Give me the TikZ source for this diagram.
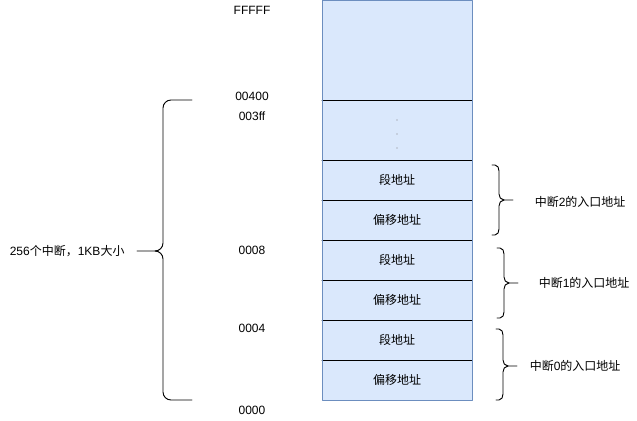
\documentclass[tikz,border=0pt]{standalone}
\usepackage{fontspec}
\setmainfont{Liberation Sans}
\newfontfamily\cjk{Noto Sans CJK SC}
\definecolor{memfill}{HTML}{DAE8FC}
\definecolor{memline}{HTML}{6C8EBF}
\tikzset{cell/.style={fill=memfill,minimum width=112.5pt,minimum height=30pt,inner sep=0pt,outer sep=0pt},
 addr/.style={inner sep=1pt}}
\begin{document}
\begin{tikzpicture}[x=0.75pt,y=-0.75pt,font=\fontsize{9pt}{11pt}\selectfont,line join=round,line cap=round,line width=0.7pt]
 \useasboundingbox (0,0) rectangle (637,421);
 % memory column
 \node[cell,minimum height=75pt] (top) at (397,50) {};
 \node[cell,minimum height=45pt] (dots) at (397,130) {};
 \node[cell] (seg2) at (397,180) {\cjk 段地址};
 \node[cell] (off2) at (397,220) {\cjk 偏移地址};
 \node[cell] (seg1) at (397,260) {\cjk 段地址};
 \node[cell] (off1) at (397,300) {\cjk 偏移地址};
 \node[cell] (seg0) at (397,340) {\cjk 段地址};
 \node[cell] (off0) at (397,380) {\cjk 偏移地址};
 \foreach \n in {dots,seg2,off2,seg1,off1,seg0,off0}
  \draw (\n.north west) -- (\n.north east);
 \draw[memline] (top.north west) rectangle (off0.south east);
 \fill[gray] (397,120) circle(0.6) (397,134) circle(0.6) (397,148) circle(0.6);
 % addresses
 \node[addr] (aF) at (252,10) {FFFFF};
 \node[addr] (a400) at (252,96) {00400};
 \node[addr] (a3ff) at (252,116) {003ff};
 \node[addr] (a8) at (252,250) {0008};
 \node[addr] (a4) at (252,328) {0004};
 \node[addr] (a0) at (252,410) {0000};
 % left brace
 \draw (192,100) -- (171,100) to[out=180,in=90] (163,108) -- (163,243) to[out=-90,in=0] (155,251) -- (137,251);
 \draw (155,251) to[out=0,in=90] (163,259) -- (163,392) to[out=-90,in=180] (171,400) -- (192,400);
 \node[addr,anchor=west] (total) at (8,251) {256{\cjk 个中断，}1KB{\cjk 大小}};
 % right braces
 \foreach \bx/\bt/\bm/\bb in {492/165/200/235,497/248/283/318,496/329/366/400}{
  \draw (\bx,\bt) -- ({\bx+3},\bt) to[out=0,in=90] ({\bx+7},{\bt+6}) -- ({\bx+7},{\bm-6}) to[out=-90,in=180] ({\bx+12},\bm) -- ({\bx+21},\bm);
  \draw ({\bx+12},\bm) to[out=180,in=90] ({\bx+7},{\bm+6}) -- ({\bx+7},{\bb-6}) to[out=-90,in=0] ({\bx+3},\bb) -- (\bx,\bb);
 }
 \node[addr,anchor=west] (int2) at (533,202) {{\cjk 中断}2{\cjk 的入口地址}};
 \node[addr,anchor=west] (int1) at (537,283) {{\cjk 中断}1{\cjk 的入口地址}};
 \node[addr,anchor=west] (int0) at (528,366) {{\cjk 中断}0{\cjk 的入口地址}};
\end{tikzpicture}
\end{document}
